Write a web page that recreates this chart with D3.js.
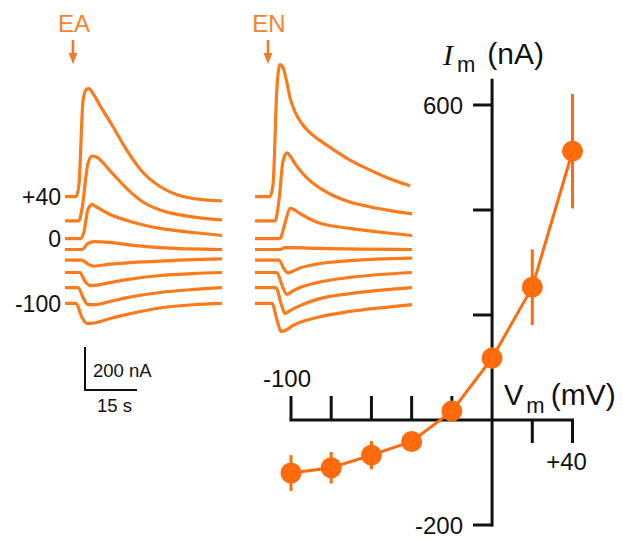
<!DOCTYPE html>
<html>
<head>
<meta charset="utf-8">
<script src="https://cdn.jsdelivr.net/npm/d3@7"></script>
<style>
  html, body { margin: 0; padding: 0; background: #fff; }
  svg { display: block; font-family: "Liberation Sans", Arial, sans-serif; }
</style>
</head>
<body>
<svg id="fig" width="623" height="538"></svg>
<script>
// ---- Current traces -------------------------------------------------------
// Holding potentials of the stacked traces (mV), top to bottom
const traceVoltages = [40, 20, 0, -20, -40, -60, -80, -100];
// Vertical stacking offset given to each trace (nA)
const traceOffsets = [246, 133, 51, 0, -49, -107, -177, -251];
// Labels written beside the first stack
const stackLabels = [
  { v: 40, text: "+40" },
  { v: 0, text: "0" },
  { v: -100, text: "-100" }
];
const panelNames = ["EA", "EN"];
// Time of agonist application in each panel (s)
const stimulusTimes = [2.3, 3.75];

// EA-evoked currents: [time (s), current (nA)] for each holding potential
const eaTraces = [
  [[0,0],[3.2,0],[4.0,51],[5.2,446],[6.1,498],[6.9,502],[8.1,479],[10.1,423],[13.8,326],[17.9,214],[22.5,112],[27.4,47],[32.3,9],[36.9,-9],[45.3,-20]],
  [[0,0],[4.0,0],[4.9,56],[6.6,265],[7.8,302],[8.9,298],[13.0,233],[17.9,149],[22.5,88],[27.4,51],[33.2,28],[38.9,14],[45.3,5]],
  [[0,0],[4.6,0],[5.5,33],[6.6,135],[7.8,158],[8.9,149],[13.0,112],[17.9,84],[27.4,47],[36.9,28],[45.3,14]],
  [[0,0],[4.9,0],[6.6,28],[8.4,37],[13.0,33],[17.9,23],[27.4,9],[45.3,0]],
  [[0,0],[4.9,0],[6.6,-19],[8.1,-28],[13.0,-19],[27.4,-5],[45.3,5]],
  [[0,0],[4.3,0],[5.8,-42],[7.2,-60],[10.1,-56],[13.0,-47],[17.9,-33],[27.4,-14],[36.9,-5],[45.3,0]],
  [[0,0],[3.75,0],[5.5,-56],[6.6,-79],[8.7,-79],[13.0,-65],[17.9,-47],[27.4,-23],[36.9,-9],[45.3,0]],
  [[0,0],[3.2,0],[4.9,-65],[6.3,-93],[8.7,-90],[13.0,-70],[17.9,-51],[27.4,-21],[36.9,-6],[45.3,0]]
];

// EN-evoked currents: [time (s), current (nA)] for each holding potential
const enTraces = [
  [[0,0],[4.3,0],[5.2,56],[6.3,498],[7.2,614],[8.1,600],[9.0,545],[10.1,460],[11.5,395],[13.5,340],[16,295],[19,258],[22.5,220],[27.4,170],[32.3,130],[36.9,96],[44.7,50]],
  [[0,0],[5.8,0],[6.9,93],[8.1,279],[9.2,316],[10.3,298],[11.5,268],[13.5,225],[16,185],[19,150],[22.5,118],[27.4,88],[33,66],[39,48],[45.3,33]],
  [[0,0],[7.2,0],[8.7,74],[10.1,140],[11.2,135],[13.0,116],[17.9,76],[27.4,47],[36.9,28],[45.3,14]],
  [[0,0],[7.2,0],[8.7,9],[10.7,9],[18.8,5],[45.3,0]],
  [[0,0],[6.9,0],[8.4,-42],[9.5,-60],[11.0,-51],[13.0,-37],[17.9,-19],[27.4,-3],[45.3,9]],
  [[0,0],[6.3,0],[7.8,-60],[9.2,-102],[10.7,-88],[13.0,-70],[17.9,-47],[27.4,-23],[45.3,0]],
  [[0,0],[6.1,0],[7.5,-74],[8.7,-121],[10.1,-107],[13.0,-84],[17.9,-55],[27.4,-28],[45.3,0]],
  [[0,0],[4.9,0],[6.3,-74],[7.5,-130],[8.7,-126],[11.0,-102],[17.9,-65],[27.4,-37],[36.9,-19],[45.3,-5]]
];

// Scale bar sizes
const scaleBarCurrent = 200; // nA
const scaleBarTime = 15;     // s

// ---- Current-voltage relation --------------------------------------------
const ivVoltage = [-100, -80, -60, -40, -20, 0, 20, 40];     // mV
const ivCurrent = [-101, -91, -67, -41, 17, 118, 253, 512];  // nA
const ivError   = [34, 30, 27, 12, 10, 20, 72, 109];         // nA
const xTickValues = [-100, -80, -60, -40, -20, 20, 40];
const xTickLabels = [{ v: -100, text: "-100" }, { v: 40, text: "+40" }];
const yTickValues = [-200, 200, 400, 600];
const yTickLabels = [{ v: 600, text: "600" }, { v: -200, text: "-200" }];

// ---- Drawing ---------------------------------------------------------------
const svg = d3.select("#fig");
const traceColor = "#fb7b1c";
const pointColor = "#ff6a0c";
const ink = "#111";

// Shared current scale for both stacks: 200 nA spans 43 px
const yTrace = d3.scaleLinear().domain([0, 200]).range([249.5, 206.5]);
// Time scales: 15 s spans 52 px
const panelX = [
  d3.scaleLinear().domain([0, 15]).range([65, 117]),
  d3.scaleLinear().domain([0, 15]).range([255, 307])
];

[eaTraces, enTraces].forEach((traces, p) => {
  const x = panelX[p];
  const g = svg.append("g");
  const line = d3.line()
    .x(d => x(d[0]))
    .curve(d3.curveMonotoneX);
  traces.forEach((tr, i) => {
    g.append("path")
      .attr("d", line.y(d => yTrace(traceOffsets[i] + d[1]))(tr))
      .attr("fill", "none")
      .attr("stroke", traceColor)
      .attr("stroke-width", 3.2)
      .attr("stroke-linejoin", "round")
      .attr("stroke-linecap", "butt");
  });

  // Panel name and stimulus arrow
  const ax = x(stimulusTimes[p]);
  g.append("text")
    .attr("x", ax + 1).attr("y", 32)
    .attr("text-anchor", "middle")
    .attr("font-size", 24)
    .attr("fill", "#f7822f")
    .text(panelNames[p]);
  g.append("line")
    .attr("x1", ax).attr("x2", ax).attr("y1", 40).attr("y2", 55)
    .attr("stroke", "#ee7a2c").attr("stroke-width", 2.6);
  g.append("path")
    .attr("d", `M${ax - 4.5},53 L${ax + 4.5},53 L${ax},64 Z`)
    .attr("fill", "#ee7a2c");
});

// Voltage labels beside the EA stack
svg.append("g").selectAll("text")
  .data(stackLabels)
  .join("text")
  .attr("x", 61)
  .attr("y", d => yTrace(traceOffsets[traceVoltages.indexOf(d.v)]))
  .attr("dy", "0.36em")
  .attr("text-anchor", "end")
  .attr("font-size", 23)
  .attr("fill", ink)
  .text(d => d.text);

// Scale bar
const sbX = 85, sbY = 390;
const sbH = yTrace(0) - yTrace(scaleBarCurrent);
const sbW = panelX[0](scaleBarTime) - panelX[0](0);
svg.append("path")
  .attr("d", `M${sbX},${sbY - sbH} V${sbY} H${sbX + sbW}`)
  .attr("fill", "none").attr("stroke", ink).attr("stroke-width", 2);
svg.append("text")
  .attr("x", sbX + 8).attr("y", sbY - 13)
  .attr("font-size", 18.5).attr("fill", ink)
  .text(`${scaleBarCurrent} nA`);
svg.append("text")
  .attr("x", sbX + 12).attr("y", sbY + 22)
  .attr("font-size", 18.5).attr("fill", ink)
  .text(`${scaleBarTime} s`);

// I-V plot with axes crossing at the origin
const xIV = d3.scaleLinear().domain([-100, 40]).range([291, 572.5]);
const yIV = d3.scaleLinear().domain([-200, 600]).range([525, 105]);
const gIV = svg.append("g");
const axisW = 3;

// X axis line and ticks (negative ticks point up, positive ticks down)
gIV.append("line")
  .attr("x1", xIV(-100) - 1.5).attr("x2", xIV(40) + 1.5)
  .attr("y1", yIV(0)).attr("y2", yIV(0))
  .attr("stroke", ink).attr("stroke-width", axisW);
gIV.append("g").selectAll("line")
  .data(xTickValues)
  .join("line")
  .attr("x1", d => xIV(d)).attr("x2", d => xIV(d))
  .attr("y1", yIV(0))
  .attr("y2", d => d < 0 ? yIV(0) - 24 : yIV(0) + 23)
  .attr("stroke", ink).attr("stroke-width", axisW);

// Y axis line and ticks (pointing left)
gIV.append("line")
  .attr("x1", xIV(0)).attr("x2", xIV(0))
  .attr("y1", yIV(-200) + 1.5).attr("y2", yIV(650))
  .attr("stroke", ink).attr("stroke-width", axisW);
gIV.append("g").selectAll("line")
  .data(yTickValues)
  .join("line")
  .attr("x1", xIV(0) - 19).attr("x2", xIV(0))
  .attr("y1", d => yIV(d)).attr("y2", d => yIV(d))
  .attr("stroke", ink).attr("stroke-width", axisW);

// Tick labels
gIV.append("text")
  .attr("x", xIV(xTickLabels[0].v) - 4).attr("y", yIV(0) - 33)
  .attr("text-anchor", "middle").attr("font-size", 24).attr("fill", ink)
  .text(xTickLabels[0].text);
gIV.append("text")
  .attr("x", xIV(xTickLabels[1].v) - 6).attr("y", yIV(0) + 50)
  .attr("text-anchor", "middle").attr("font-size", 24).attr("fill", ink)
  .text(xTickLabels[1].text);
gIV.selectAll("text.ylab")
  .data(yTickLabels)
  .join("text")
  .attr("class", "ylab")
  .attr("x", xIV(0) - 29)
  .attr("y", d => yIV(d.v))
  .attr("dy", "0.36em")
  .attr("text-anchor", "end").attr("font-size", 24).attr("fill", ink)
  .text(d => d.text);

// Axis titles
const yTitle = gIV.append("text").attr("x", 443).attr("y", 65).attr("fill", ink);
yTitle.append("tspan")
  .attr("font-family", "'Liberation Serif', 'Times New Roman', serif")
  .attr("font-style", "italic").attr("font-size", 30).text("I");
yTitle.append("tspan").attr("font-size", 22).attr("dx", 4).attr("dy", 7).text("m");
yTitle.append("tspan").attr("font-size", 30).attr("dx", 12).attr("dy", -8).text("(nA)");

const xTitle = gIV.append("text").attr("x", 504).attr("y", 405).attr("fill", ink);
xTitle.append("tspan").attr("font-size", 29).text("V");
xTitle.append("tspan").attr("font-size", 22).attr("dx", 3).attr("dy", 8).text("m");
xTitle.append("tspan").attr("font-size", 30).attr("dx", 6).attr("dy", -8).text("(mV)");

// Error bars, connecting line and mean points
const ivData = ivVoltage.map((v, i) => ({ v, i: ivCurrent[i], e: ivError[i] }));
gIV.append("g").selectAll("line")
  .data(ivData)
  .join("line")
  .attr("x1", d => xIV(d.v)).attr("x2", d => xIV(d.v))
  .attr("y1", d => yIV(d.i - d.e)).attr("y2", d => yIV(d.i + d.e))
  .attr("stroke", pointColor).attr("stroke-width", 3);
gIV.append("path")
  .attr("d", d3.line().x(d => xIV(d.v)).y(d => yIV(d.i))(ivData))
  .attr("fill", "none").attr("stroke", pointColor).attr("stroke-width", 3);
gIV.append("g").selectAll("circle")
  .data(ivData)
  .join("circle")
  .attr("cx", d => xIV(d.v)).attr("cy", d => yIV(d.i))
  .attr("r", 10.5)
  .attr("fill", pointColor);
</script>
</body>
</html>
